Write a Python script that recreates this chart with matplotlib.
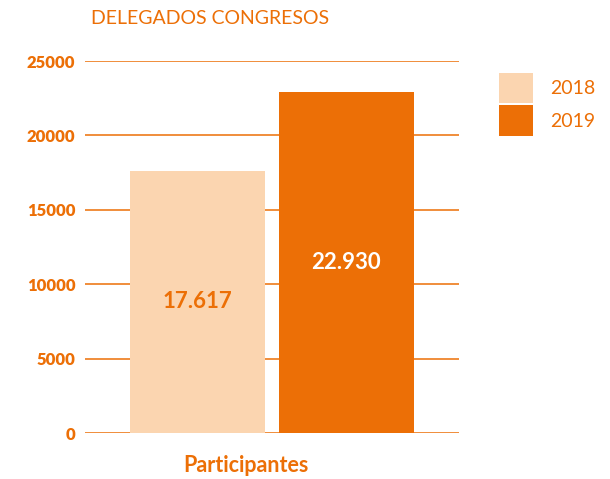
import matplotlib
matplotlib.use("Agg")
import matplotlib.pyplot as plt
from matplotlib.patches import Patch

# data
years = ["2018", "2019"]
values = [17617, 22930]
value_labels = ["17.617", "22.930"]
category = "Participantes"
yticks = [0, 5000, 10000, 15000, 20000, 25000]

orange = "#EC6F06"
peach = "#FBD5B0"
bar_colors = [peach, orange]
label_colors = [orange, "white"]

plt.rcParams["font.family"] = ["Lato", "DejaVu Sans"]

fig = plt.figure(figsize=(6.1, 4.79), dpi=100)
ax = fig.add_axes([85 / 610, 1 - 433 / 479, 374 / 610, 372 / 479])

width = 0.361
offsets = [-0.199, 0.199]
for i in range(len(years)):
    ax.bar(offsets[i], values[i], width=width, color=bar_colors[i], zorder=2)
    ax.text(offsets[i], values[i] / 2, value_labels[i], ha="center", va="center",
            color=label_colors[i], fontsize=16, fontweight="bold", zorder=3)

ax.set_xlim(-0.5, 0.5)
ax.set_ylim(0, 25000)
ax.set_yticks(yticks)
ax.set_yticklabels([str(t) for t in yticks], fontweight="heavy", fontsize=12, color=orange)
ax.yaxis.grid(True, color=orange, linewidth=1.1, zorder=0)
ax.set_axisbelow(True)
ax.tick_params(axis="y", length=0, pad=7)
ax.set_xticks([])
for s in ax.spines.values():
    s.set_visible(False)

fig.text(246 / 610, 1 - 466 / 479, category, ha="center", va="center",
         color=orange, fontsize=15.5, fontweight="bold")
fig.text(210 / 610, 1 - 18 / 479, "DELEGADOS CONGRESOS", ha="center", va="center",
         color=orange, fontsize=14)

handles = [Patch(facecolor=c) for c in bar_colors]
leg = fig.legend(handles, years, loc="upper left", bbox_to_anchor=(482 / 610, 1 - 55 / 479),
                 frameon=False, fontsize=14, handlelength=1.7, handleheight=2.0,
                 handletextpad=0.9, labelspacing=0.15)
for t in leg.get_texts():
    t.set_color(orange)

fig.savefig("out.png", dpi=100)
